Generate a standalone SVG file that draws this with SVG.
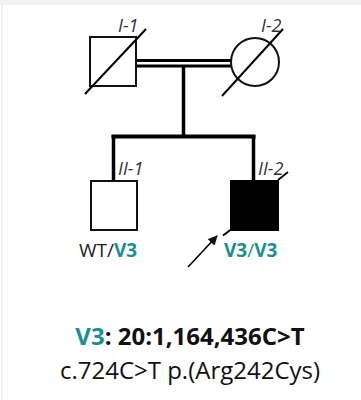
<svg xmlns="http://www.w3.org/2000/svg" width="361" height="400" viewBox="0 0 361 400">
  <style>
    .ln{stroke:#000;fill:none}
    .sym{stroke:#111;stroke-width:2;fill:#fff}
    .lbl{font-family:"Open Sans","Liberation Sans",sans-serif;font-style:italic;font-size:18px;fill:#333}
    .gt{font-family:"Open Sans","Liberation Sans",sans-serif;font-size:19px;fill:#222}
    .teal{fill:#1d8f8f;font-weight:bold}
    .var{font-family:"Open Sans","Liberation Sans",sans-serif;fill:#111}
  </style>
  <defs>
    <marker id="ah" viewBox="0 0 10 10" refX="9" refY="5" markerWidth="6" markerHeight="6" orient="auto">
      <path d="M0,0 L10,5 L0,10 z" fill="#111"/>
    </marker>
  </defs>
  <rect x="0" y="0" width="361" height="400" fill="#fff"/>
  <rect x="0" y="0" width="361" height="5" fill="#f1f1f1"/>
  <line x1="2" y1="5" x2="2" y2="400" stroke="#ececec" stroke-width="1.5"/>

  <g id="connectors">
    <line class="ln" x1="136" y1="60.5" x2="232" y2="60.5" stroke-width="3"/>
    <line class="ln" x1="136" y1="66" x2="232" y2="66" stroke-width="3"/>
    <line class="ln" x1="183.5" y1="66" x2="183.5" y2="137" stroke-width="3.5"/>
    <line class="ln" x1="111.5" y1="136.5" x2="255.5" y2="136.5" stroke-width="4"/>
    <line class="ln" x1="113.5" y1="135" x2="113.5" y2="181" stroke-width="3.5"/>
    <line class="ln" x1="253.5" y1="135" x2="253.5" y2="181" stroke-width="3.5"/>
    <line class="ln" x1="188" y1="267" x2="217" y2="236" stroke-width="1.6" marker-end="url(#ah)"/>
    <line class="ln" x1="223" y1="235.5" x2="231" y2="229.5" stroke-width="2"/>
  </g>

  <g id="I-1">
    <rect class="sym" x="90" y="37" width="46" height="49"/>
    <line class="ln" x1="85" y1="94" x2="146" y2="29" stroke-width="2"/>
    <text class="lbl" x="118" y="32">I-1</text>
  </g>

  <g id="I-2">
    <circle class="sym" cx="255" cy="62" r="24"/>
    <line class="ln" x1="222" y1="96" x2="283" y2="29" stroke-width="2"/>
    <text class="lbl" x="261" y="32">I-2</text>
  </g>

  <g id="II-1">
    <rect class="sym" x="91" y="181" width="46" height="49"/>
    <text class="lbl" x="118" y="175">II-1</text>
    <text class="gt" x="79" y="257">WT/<tspan class="teal">V3</tspan></text>
  </g>

  <g id="II-2">
    <rect x="231" y="181" width="47" height="49" fill="#000" stroke="#000" stroke-width="2"/>
    <line class="ln" x1="278" y1="180" x2="288" y2="172" stroke-width="1.8"/>
    <text class="lbl" x="258" y="175">II-2</text>
    <text class="gt" x="224" y="257"><tspan class="teal">V3</tspan><tspan fill="#1d8f8f">/</tspan><tspan class="teal">V3</tspan></text>
  </g>

  <g id="variant">
    <text class="var" x="190" y="345" text-anchor="middle" font-size="24" font-weight="bold"><tspan fill="#1d8f8f">V3</tspan>: 20:1,164,436C&gt;T</text>
    <text class="var" x="190" y="379" text-anchor="middle" font-size="24">c.724C&gt;T p.(Arg242Cys)</text>
  </g>
</svg>
